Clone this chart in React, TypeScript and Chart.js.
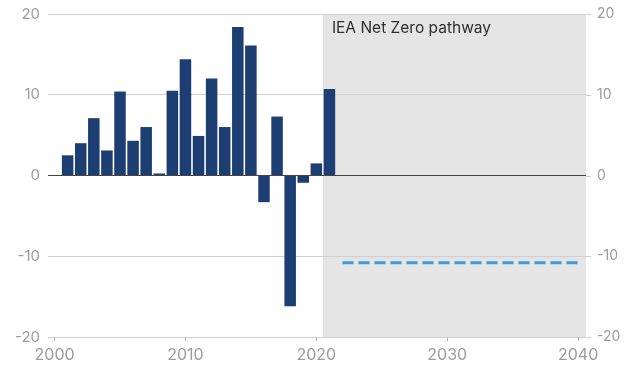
import React, { useEffect, useRef } from "react";
import { Chart, registerables } from "chart.js";

Chart.register(...registerables);

const years = [2001, 2002, 2003, 2004, 2005, 2006, 2007, 2008, 2009, 2010, 2011, 2012, 2013, 2014, 2015, 2016, 2017, 2018, 2019, 2020, 2021];
const values = [2.5, 4.0, 7.1, 3.1, 10.4, 4.3, 6.0, 0.25, 10.5, 14.4, 4.9, 12.0, 6.0, 18.4, 16.1, -3.3, 7.3, -16.2, -0.9, 1.5, 10.7];
const pathwayYears = [2022, 2040];
const pathwayValues = [-10.8, -10.8];
const xTicks = [2000, 2010, 2020, 2030, 2040];
const yTicks = [-20, -10, 0, 10, 20];
const shadeStart = 2020.5;
const shadeLabel = "IEA Net Zero pathway";

const FONT = "Inter, 'Noto Sans', sans-serif";
const TICK_COLOR = "#9c9c9c";
const GRID_COLOR = "#cfcfcf";

export default function App() {
  const ref = useRef<HTMLCanvasElement | null>(null);

  useEffect(() => {
    document.body.style.margin = "0";
    const canvas = ref.current;
    if (!canvas) return;

    const shadePlugin = {
      id: "shade",
      beforeDraw(chart: any) {
        const { ctx, chartArea, scales } = chart;
        const x0 = scales.x.getPixelForValue(shadeStart);
        ctx.save();
        ctx.fillStyle = "#e5e5e5";
        ctx.fillRect(x0, chartArea.top, chartArea.right - x0, chartArea.bottom - chartArea.top);
        ctx.fillStyle = "#2e2e2e";
        ctx.font = `15.5px ${FONT}`;
        ctx.textBaseline = "middle";
        ctx.textAlign = "left";
        ctx.fillText(shadeLabel, x0 + 9, chartArea.top + 14);
        // short gridline extensions on the right axis
        ctx.strokeStyle = GRID_COLOR;
        ctx.lineWidth = 1;
        for (const v of yTicks) {
          const py = Math.round(scales.y2.getPixelForValue(v)) + 0.5;
          ctx.beginPath();
          ctx.moveTo(chartArea.right, py);
          ctx.lineTo(chartArea.right + 5, py);
          ctx.stroke();
        }
        ctx.restore();
      },
    };

    const chart = new Chart(canvas, {
      type: "bar",
      data: {
        datasets: [
          {
            type: "bar",
            data: years.map((y, i) => ({ x: y, y: values[i] })),
            backgroundColor: "#1d3e72",
            barPercentage: 0.88,
            categoryPercentage: 1,
            yAxisID: "y",
            order: 2,
          } as any,
          {
            type: "line",
            data: pathwayYears.map((y, i) => ({ x: y, y: pathwayValues[i] })),
            borderColor: "#3c9ad6",
            borderWidth: 3,
            borderDash: [11, 5],
            pointRadius: 0,
            fill: false,
            yAxisID: "y",
            order: 1,
          } as any,
        ],
      },
      options: {
        responsive: false,
        animation: false,
        layout: { padding: { top: 14, right: 0, left: 0, bottom: 0 } },
        plugins: { legend: { display: false }, tooltip: { enabled: false } },
        scales: {
          x: {
            type: "linear",
            min: 1999.5,
            max: 2040.6,
            offset: false,
            afterBuildTicks(scale: any) {
              scale.ticks = xTicks.map((v) => ({ value: v }));
            },
            afterFit(scale: any) {
              scale.height = 30;
            },
            border: { display: false },
            grid: { offset: false, drawOnChartArea: false, drawTicks: true, tickLength: 4, color: "#aaaaaa" },
            ticks: {
              color: TICK_COLOR,
              font: { family: FONT, size: 16 },
              padding: 5,
              maxRotation: 0,
              autoSkip: false,
              callback: (v: any) => String(v),
            },
          },
          y: {
            position: "left",
            min: -20,
            max: 20,
            afterBuildTicks(scale: any) {
              scale.ticks = yTicks.map((v) => ({ value: v }));
            },
            afterFit(scale: any) {
              scale.width = 48;
            },
            border: { display: false },
            grid: {
              drawTicks: true,
              tickLength: 8,
              tickColor: "rgba(0,0,0,0)",
              color: (c: any) => (c.tick && c.tick.value === 0 ? "#444444" : GRID_COLOR),
              lineWidth: 1,
            },
            ticks: { color: TICK_COLOR, font: { family: FONT, size: 15 }, padding: 0 },
          },
          y2: {
            position: "right",
            min: -20,
            max: 20,
            afterBuildTicks(scale: any) {
              scale.ticks = yTicks.map((v) => ({ value: v }));
            },
            afterFit(scale: any) {
              scale.width = 45;
            },
            border: { display: false },
            grid: { drawOnChartArea: false, drawTicks: true, tickLength: 11, tickColor: "rgba(0,0,0,0)", color: "rgba(0,0,0,0)" },
            ticks: { color: TICK_COLOR, font: { family: FONT, size: 14 }, padding: 0 },
          },
        },
      } as any,
      plugins: [shadePlugin],
    });

    return () => chart.destroy();
  }, []);

  return (
    <div style={{ position: "absolute", left: 0, top: 0, width: 631, height: 367 }}>
      <canvas ref={ref} width={631} height={367} />
    </div>
  );
}
